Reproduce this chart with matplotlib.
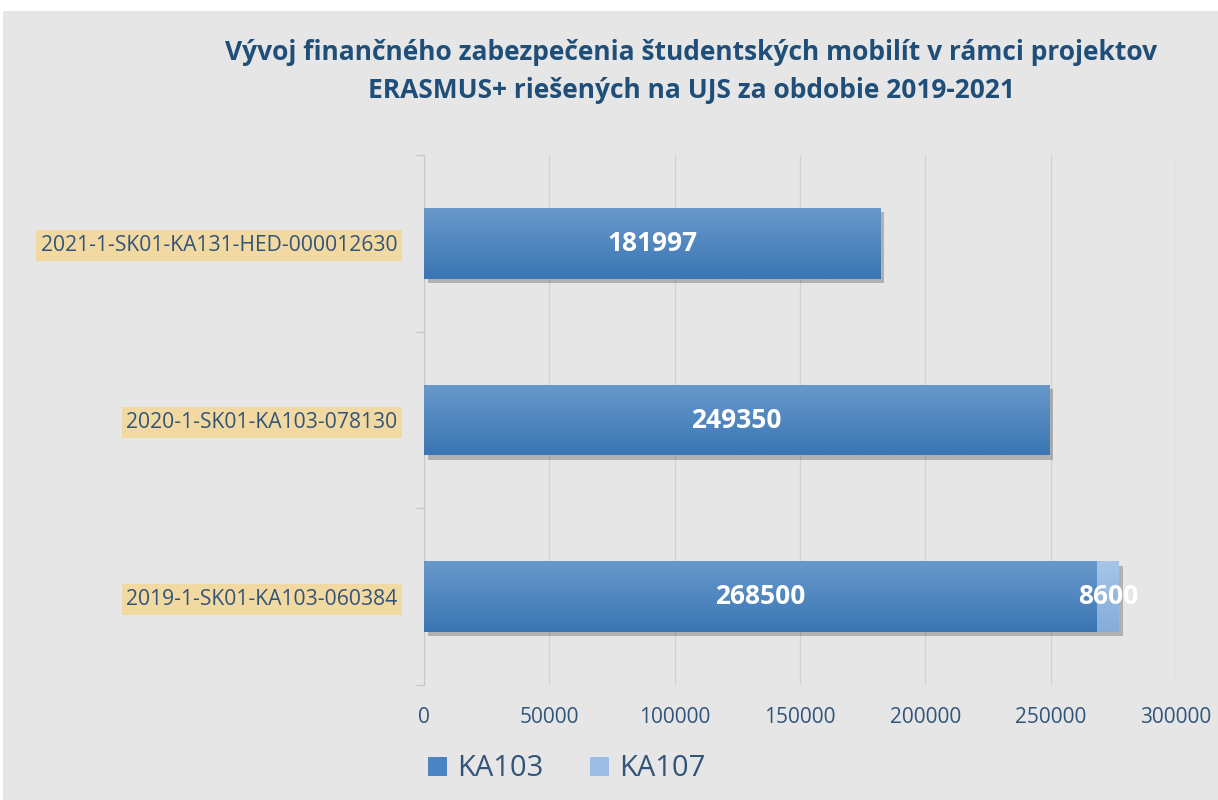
"""Erasmus+ mobility funding per project (UJS, 2019-2021), stacked horizontal bars."""

import matplotlib

matplotlib.use("Agg")
import matplotlib.pyplot as plt
import matplotlib.patheffects as pe
import numpy as np
from matplotlib.colors import LinearSegmentedColormap
from matplotlib.patches import Patch, Rectangle

# bottom to top, as on the chart
projects = ["2019-1-SK01-KA103-060384", "2020-1-SK01-KA103-078130", "2021-1-SK01-KA131-HED-000012630"]
ka103 = [268500, 249350, 181997]
ka107 = [8600, 0, 0]
series = ["KA103", "KA107"]
xticks = [0, 50000, 100000, 150000, 200000, 250000, 300000]
title1 = "Vývoj finančného zabezpečenia študentských mobilít v rámci projektov"
title2 = "ERASMUS+ riešených na UJS za obdobie 2019-2021"

TEXT = "#31557a"
TITLE = "#1f4e79"
SANS = ["Open Sans", "Noto Sans", "DejaVu Sans"]

W, H = 1218, 800
fig = plt.figure(figsize=(W / 100, H / 100), dpi=100, facecolor="white")
fig.patches.append(Rectangle((3 / W, 0), 1, 1 - 11 / H, transform=fig.transFigure,
                             facecolor="#e6e6e6", edgecolor="none", zorder=-10))

ax = fig.add_axes([424 / W, 115 / H, 752 / W, 530 / H])
ax.set_facecolor("none")


def gradient(bars, bottom, top):
    cmap = LinearSegmentedColormap.from_list("g", [bottom, top])
    grad = np.linspace(0, 1, 64).reshape(-1, 1)
    for b in bars:
        if b.get_width() <= 0:
            continue
        x, y, w, h = b.get_x(), b.get_y(), b.get_width(), b.get_height()
        im = ax.imshow(grad, extent=(x, x + w, y, y + h), origin="lower", cmap=cmap,
                       aspect="auto", zorder=3, interpolation="bilinear")
        im.set_clip_path(b)


y = np.arange(len(projects))
shadow = [pe.SimplePatchShadow(offset=(3, -3), shadow_rgbFace="#505050", alpha=0.35), pe.Normal()]
b1 = ax.barh(y, ka103, 0.40, color="#4a84c2", zorder=2, path_effects=shadow)
b2 = ax.barh(y, ka107, 0.40, left=ka103, color="#97bbe3", zorder=2, path_effects=shadow)
gradient(b1, "#3a76b3", "#6898cb")
gradient(b2, "#86acd9", "#a6c5e8")

for yi, a, b in zip(y, ka103, ka107):
    ax.text(a / 2, yi, f"{a}", ha="center", va="center", color="white",
            fontsize=19, fontweight="bold", family=SANS, zorder=5)
    if b:
        ax.text(a + b / 2, yi, f"{b}", ha="center", va="center", color="white",
                fontsize=19, fontweight="bold", family=SANS, zorder=5)

ax.set_xlim(0, 300000)
ax.set_ylim(-0.5, len(projects) - 0.5)
ax.set_xticks(xticks)
ax.set_xticklabels([str(t) for t in xticks], family=SANS, fontsize=15, color=TEXT)
ax.set_yticks(y)
ax.set_yticklabels(projects, family=SANS, fontsize=15.2, color=TEXT)
for lab in ax.get_yticklabels():
    lab.set_bbox(dict(facecolor="#f2d9a2", edgecolor="none", pad=3.5))
ax.set_yticks(np.arange(-0.5, len(projects)), minor=True)
ax.tick_params(axis="x", length=0, pad=16)
ax.tick_params(axis="y", which="major", length=0, pad=19)
ax.tick_params(axis="y", which="minor", length=6, color="#c8c8c8", width=1)
ax.grid(axis="x", color="#d2d2d2", linewidth=1, zorder=0)
for s in ["top", "right", "bottom"]:
    ax.spines[s].set_visible(False)
ax.spines["left"].set_color("#c8c8c8")

fig.text(691 / W, 1 - 60 / H, title1, ha="center", va="baseline", fontsize=19,
         fontweight="bold", color=TITLE, family=SANS)
fig.text(691 / W, 1 - 98 / H, title2, ha="center", va="baseline", fontsize=19,
         fontweight="bold", color=TITLE, family=SANS)

handles = [Patch(facecolor="#4a84c2"), Patch(facecolor="#9dbfe5")]
fig.legend(handles, series, loc="center left", bbox_to_anchor=(402 / W, 1 - 769 / H), ncol=2,
           frameon=False, prop={"family": SANS, "size": 21}, labelcolor=TEXT,
           handlelength=0.65, handleheight=0.65, handletextpad=0.35, columnspacing=1.6)

fig.savefig("out.png", dpi=100, facecolor="white")
